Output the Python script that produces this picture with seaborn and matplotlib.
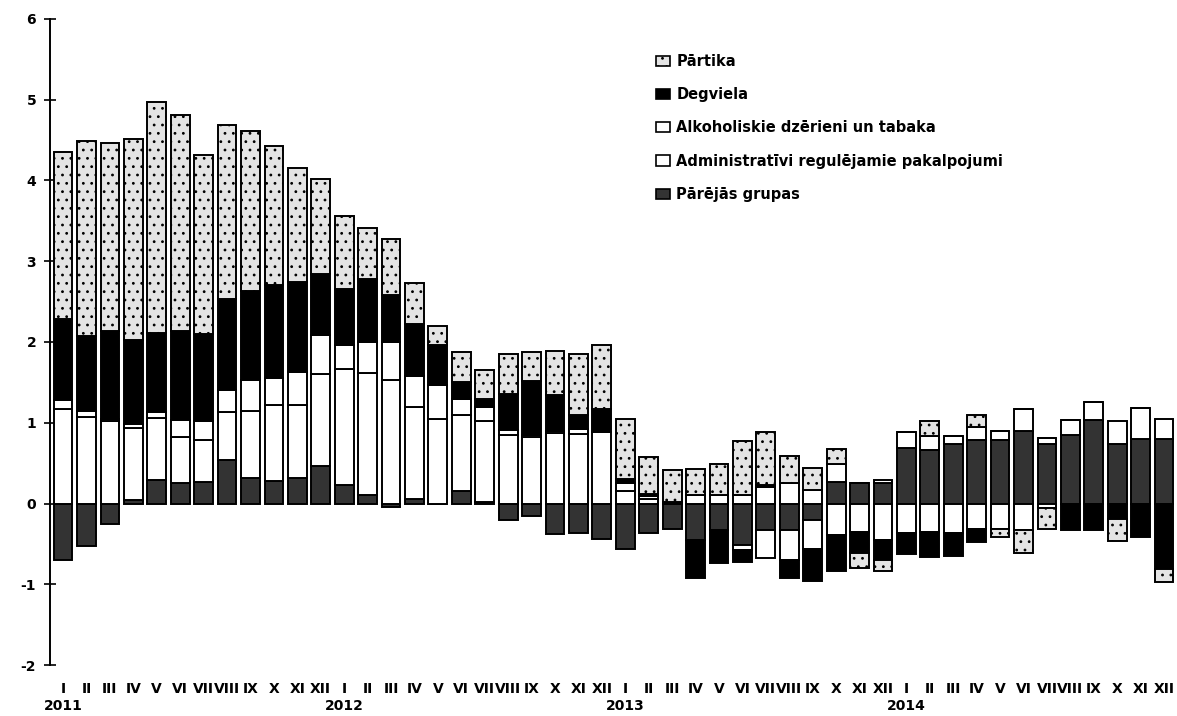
import matplotlib
matplotlib.use("Agg")
import matplotlib.pyplot as plt
from matplotlib.patches import Patch
import seaborn as sns
import numpy as np
import pandas as pd

# monthly contributions (pp), 2011 I .. 2014 XII
months = ["I", "II", "III", "IV", "V", "VI", "VII", "VIII", "IX", "X", "XI", "XII"] * 4
years = ["2011", "2012", "2013", "2014"]

other = [-0.70, -0.53, -0.25, 0.04, 0.29, 0.26, 0.27, 0.54, 0.31, 0.28, 0.31, 0.47,
         0.23, 0.10, -0.04, 0.05, 0.00, 0.16, 0.02, -0.21, -0.16, -0.38, -0.37, -0.44,
         -0.56, -0.37, -0.31, -0.45, -0.33, -0.51, -0.33, -0.33, -0.20, 0.27, 0.25, 0.26,
         0.69, 0.66, 0.74, 0.79, 0.79, 0.90, 0.74, 0.85, 1.03, 0.74, 0.80, 0.80]
admin = [1.17, 1.07, 1.02, 0.89, 0.77, 0.56, 0.52, 0.59, 0.84, 0.94, 0.91, 1.13,
         1.44, 1.51, 1.53, 1.15, 1.05, 0.94, 1.00, 0.85, 0.82, 0.87, 0.86, 0.89,
         0.16, 0.05, 0.00, 0.10, 0.10, 0.10, -0.35, -0.37, -0.36, -0.39, -0.35, -0.45,
         -0.37, -0.35, -0.37, -0.31, -0.31, -0.33, -0.05, 0.00, 0.00, 0.00, 0.00, 0.00]
alcohol = [0.11, 0.07, 0.03, 0.05, 0.07, 0.22, 0.23, 0.27, 0.38, 0.34, 0.41, 0.49,
           0.29, 0.39, 0.47, 0.38, 0.42, 0.19, 0.17, 0.06, 0.03, 0.03, 0.06, 0.00,
           0.10, 0.04, 0.00, 0.00, 0.00, -0.07, 0.20, 0.25, 0.17, 0.22, 0.00, 0.03,
           0.20, 0.18, 0.10, 0.16, 0.11, 0.27, 0.07, 0.19, 0.23, 0.28, 0.38, 0.25]
fuel = [1.00, 0.93, 1.09, 1.05, 0.98, 1.09, 1.08, 1.13, 1.10, 1.15, 1.11, 0.75,
        0.70, 0.78, 0.58, 0.64, 0.49, 0.21, 0.10, 0.45, 0.67, 0.44, 0.17, 0.28,
        0.04, 0.03, 0.02, -0.47, -0.41, -0.14, 0.03, -0.22, -0.40, -0.45, -0.26, -0.25,
        -0.26, -0.31, -0.28, -0.17, 0.00, 0.00, 0.00, -0.33, -0.33, -0.19, -0.41, -0.81]
food = [2.07, 2.42, 2.32, 2.48, 2.86, 2.68, 2.22, 2.16, 1.98, 1.72, 1.41, 1.18,
        0.90, 0.63, 0.70, 0.51, 0.24, 0.37, 0.36, 0.49, 0.36, 0.55, 0.76, 0.79,
        0.75, 0.46, 0.40, 0.33, 0.39, 0.67, 0.66, 0.34, 0.27, 0.19, -0.19, -0.14,
        0.00, 0.18, 0.00, 0.15, -0.11, -0.28, -0.26, 0.00, 0.00, -0.28, 0.00, -0.16]

# stacking order from zero outwards
series = [
    ("Pārējās grupas", other, "#333333", None),
    ("Administratīvi regulējamie pakalpojumi", admin, "white", None),
    ("Alkoholiskie dzērieni un tabaka", alcohol, "white", None),
    ("Degviela", fuel, "black", None),
    ("Pārtika", food, "#e4e4e4", ".."),
]
legend_order = ["Pārtika", "Degviela", "Alkoholiskie dzērieni un tabaka",
                "Administratīvi regulējamie pakalpojumi", "Pārējās grupas"]

sns.set_theme(style="white")
plt.rcParams["font.family"] = ["DejaVu Sans"]
plt.rcParams["text.color"] = "black"
plt.rcParams["xtick.color"] = "black"
plt.rcParams["ytick.color"] = "black"
plt.rcParams["hatch.linewidth"] = 0.8

fig = plt.figure(figsize=(11.77, 7.16), dpi=100)
ax = fig.add_axes([0.0425, 0.0712, 0.9575, 0.9023])

n = len(months)
idx = np.arange(n)
pos_base = np.zeros(n)
neg_base = np.zeros(n)
for name, vals, color, hatch in series:
    v = np.array(vals)
    bottom = np.where(v >= 0, pos_base, neg_base)
    df = pd.DataFrame({"x": idx, "y": v})
    sns.barplot(data=df, x="x", y="y", bottom=bottom, color=color, edgecolor="black",
                linewidth=1.4, hatch=hatch, errorbar=None, width=0.8,
                saturation=1, ax=ax)
    pos_base = pos_base + np.clip(v, 0, None)
    neg_base = neg_base + np.clip(v, None, 0)

ax.set_xlim(-0.555, 47.55)
ax.set_ylim(-2, 6)
ax.set_yticks(range(-2, 7))
ax.set_yticklabels([str(t) for t in range(-2, 7)], fontweight="bold", fontsize=10, color="black")
ax.set_xticks(idx)
ax.set_xticklabels(months, fontweight="bold", fontsize=10, color="black")
ax.tick_params(axis="x", length=0, pad=12)
ax.tick_params(axis="y", direction="inout", length=8, width=1.2, left=True, pad=6, colors="black")
ax.set_xlabel("")
ax.set_ylabel("")
for s in ["top", "right", "bottom"]:
    ax.spines[s].set_visible(False)
ax.spines["left"].set_color("black")
ax.spines["left"].set_linewidth(1.4)

# year labels under each January
for k, yr in enumerate(years):
    ax.text(12 * k, -0.063, yr, transform=ax.get_xaxis_transform(), ha="center",
            va="center", fontsize=10, fontweight="bold", color="black", clip_on=False)

style = {name: (color, hatch) for name, _, color, hatch in series}
handles = [Patch(facecolor=style[nm][0], edgecolor="black", hatch=style[nm][1], linewidth=1.2)
           for nm in legend_order]
leg = ax.legend(handles, legend_order, loc="upper left", bbox_to_anchor=(650 / 1177, 1 - 48 / 716),
                bbox_transform=fig.transFigure, frameon=False, prop={"weight": "bold", "size": 10.5},
                handlelength=1.0, handleheight=0.7, handletextpad=0.4, labelspacing=1.25,
                borderaxespad=0)
for t in leg.get_texts():
    t.set_color("black")

fig.savefig("out.png", dpi=100)
